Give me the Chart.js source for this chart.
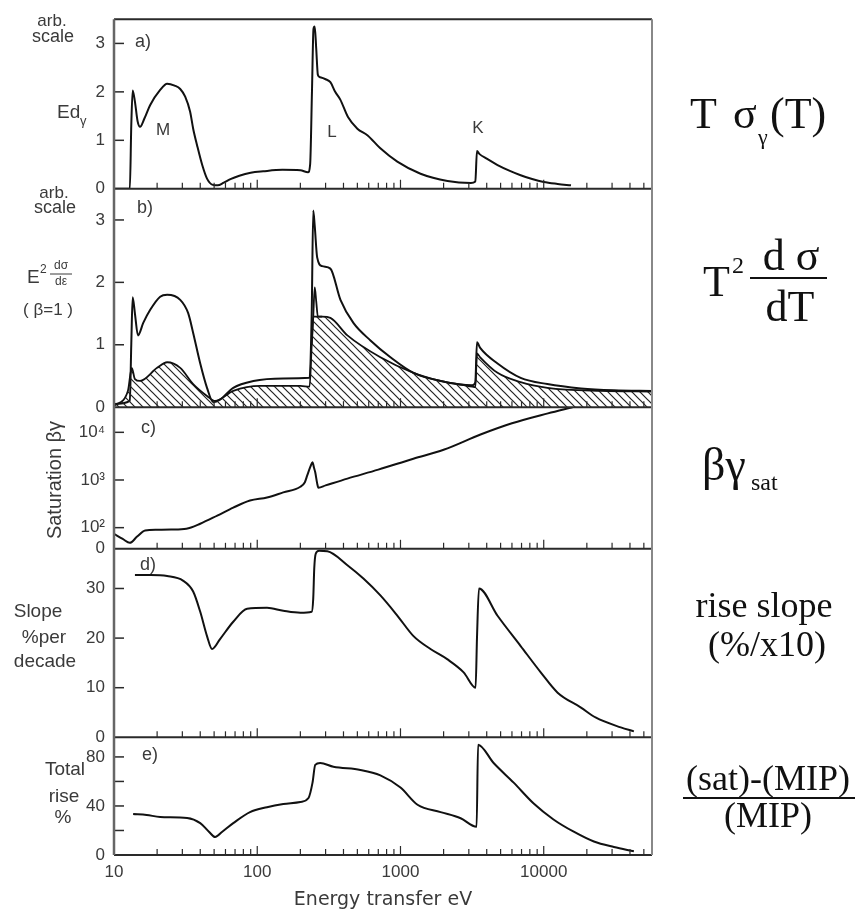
<!DOCTYPE html>
<html>
<head>
<meta charset="utf-8">
<title>Energy transfer spectra</title>
<script src="https://cdn.jsdelivr.net/npm/chart.js@4.4.1/dist/chart.umd.min.js"></script>
<style>
  html, body { margin: 0; padding: 0; background: #fff; }
  canvas { display: block; }
</style>
</head>
<body>
<canvas id="chart" width="861" height="915"></canvas>
<script>
// a) photo absorption  E * sigma_gamma
const aEnergy = [10, 12.9, 13.2, 13.5, 14.0, 14.6, 15.2, 16.3, 17.9, 21, 23.5, 26.5, 29, 31.4, 34, 35.7, 38, 41.3, 44.6, 49, 53, 58, 65, 75, 90, 110, 150, 200, 226, 234, 241, 247, 252, 258, 265, 275, 300, 324, 350, 380, 430, 500, 590, 720, 950, 1380, 2130, 3100, 3330, 3420, 3550, 4000, 4760, 5800, 6900, 8300, 10000, 12500, 15500];
const aSigma = [0, 0, 1.3, 2.03, 1.8, 1.4, 1.28, 1.45, 1.73, 2.04, 2.17, 2.13, 2.06, 1.9, 1.59, 1.24, 0.9, 0.49, 0.21, 0.08, 0.07, 0.12, 0.2, 0.27, 0.33, 0.36, 0.39, 0.38, 0.34, 0.5, 2.0, 3.3, 3.35, 2.9, 2.35, 2.3, 2.26, 2.2, 2.0, 1.84, 1.48, 1.24, 1.1, 0.84, 0.56, 0.31, 0.16, 0.12, 0.15, 0.78, 0.72, 0.62, 0.49, 0.37, 0.28, 0.2, 0.14, 0.1, 0.07];

// b) E^2 dsigma/dE for beta = 1: total, hatched part, L-edge spike
const bEnergy = [10, 12.9, 13.2, 13.5, 14.0, 14.7, 16, 17.9, 21, 23.5, 29, 32.9, 35.7, 40, 44.6, 49.3, 55, 68, 94, 152, 232, 240, 246, 252, 262, 284, 324, 381, 469, 617, 851, 1233, 1905, 3170, 3330, 3420, 3600, 4760, 6900, 10600, 18200, 30900, 57000];
const bTotal = [0.05, 0.1, 1.0, 1.76, 1.5, 1.15, 1.35, 1.56, 1.77, 1.8, 1.72, 1.51, 1.19, 0.7, 0.31, 0.08, 0.12, 0.31, 0.42, 0.46, 0.47, 1.5, 3.15, 2.9, 2.4, 2.26, 2.22, 1.72, 1.35, 1.07, 0.8, 0.55, 0.42, 0.35, 0.4, 1.04, 0.95, 0.7, 0.47, 0.37, 0.3, 0.27, 0.26];
const hEnergy = [10, 12.5, 13.3, 14.0, 15.2, 20, 23.5, 29, 35.7, 44.6, 50.8, 68, 105, 200, 232, 240, 246, 262, 284, 324, 426, 724, 1233, 1905, 3170, 3330, 3420, 3600, 4760, 6900, 10600, 25000, 57000];
const hShaded = [0.02, 0.26, 0.63, 0.45, 0.42, 0.63, 0.72, 0.63, 0.37, 0.18, 0.1, 0.26, 0.34, 0.34, 0.33, 1.0, 1.45, 1.45, 1.45, 1.43, 1.15, 0.8, 0.55, 0.42, 0.33, 0.32, 0.86, 0.8, 0.55, 0.4, 0.31, 0.26, 0.25];
const mEnergy = [240, 246, 252, 258, 265, 284];
const mSpike = [1.0, 1.45, 1.92, 1.7, 1.45, 1.45];

// c) saturation beta*gamma
const cEnergy = [10, 11.5, 12.9, 14.5, 16.5, 20, 25, 32, 40, 52.6, 68, 89, 117, 152, 200, 215, 223, 235, 243, 249, 254, 262, 267, 300, 426, 700, 1230, 2000, 3620, 6000, 10700, 15900];
const cBetaGamma = [74, 58, 48, 65, 87, 90, 91, 95, 121, 179, 263, 370, 430, 550, 720, 900, 1230, 1900, 2350, 1800, 1450, 850, 690, 770, 1070, 1650, 2800, 4300, 9000, 15500, 25000, 33700];

// d) rise slope, % per decade
const dEnergy = [14, 18, 23.5, 30.3, 35.7, 40, 44.6, 48.4, 55, 68, 85, 117, 152, 200, 240, 246, 250, 256, 270, 309, 426, 551, 724, 953, 1233, 1620, 2130, 2760, 3345, 3420, 3530, 4760, 6900, 9530, 12500, 18200, 23000, 34500, 42600];
const dSlope = [32.7, 32.7, 32.5, 31.6, 29.4, 25.3, 20.4, 17.8, 19.8, 23.3, 25.9, 26.1, 25.5, 25.1, 25.3, 28, 34, 37, 37.6, 37.5, 34.7, 32, 28.6, 24.5, 20.4, 17.8, 15.7, 13.1, 10.0, 20, 30, 24.5, 18.4, 13.1, 9.0, 6.0, 4.0, 2.0, 1.2];

// e) total rise, %
const eEnergy = [13.6, 16.9, 21, 32.4, 40, 46, 50.8, 57, 68, 89, 117, 152, 200, 228, 243, 254, 275, 340, 525, 724, 1000, 1315, 1905, 2630, 3400, 3480, 4470, 6170, 8510, 11700, 16200, 22400, 30900, 42600];
const eRise = [33.5, 32.7, 31, 30.2, 26, 19, 14.7, 19, 26, 35, 39, 41.6, 43.3, 46.5, 58.8, 73.5, 75, 72, 69.4, 65, 55, 41, 35, 30, 23, 90, 75, 59, 42, 29, 19, 11, 6.5, 3];

// axis ticks
const xTicks = [10, 100, 1000, 10000];
const abTicks = [0, 1, 2, 3];
const cTicks = [36, 100, 1000, 10000];
const cTickLabels = ['0', '10\u00b2', '10\u00b3', '10\u2074'];
const dTicks = [0, 10, 20, 30];
const eTicks = [0, 20, 40, 60, 80];
const eTickLabels = ['0', '', '40', '', '80'];

const sans = "'Liberation Sans', sans-serif";
const serif = "'Liberation Serif', 'DejaVu Serif', serif";
const ink = '#3a3a3a';
const panels = ['yA', 'yB', 'yC', 'yD', 'yE'];

const canvas = document.getElementById('chart');
const ctx = canvas.getContext('2d');

function pts(xs, ys) {
  return xs.map((x, i) => ({ x: x, y: ys[i] }));
}

function hatch() {
  const c = document.createElement('canvas');
  c.width = 8; c.height = 8;
  const g = c.getContext('2d');
  g.strokeStyle = '#222';
  g.lineWidth = 1.2;
  g.beginPath();
  g.moveTo(0, 0); g.lineTo(8, 8);
  g.moveTo(-4, 4); g.lineTo(4, 12);
  g.moveTo(4, -4); g.lineTo(12, 4);
  g.stroke();
  return ctx.createPattern(c, 'repeat');
}

function curve(data, axis, extra) {
  return Object.assign({
    data: data,
    yAxisID: axis,
    borderColor: '#111',
    borderWidth: 2,
    pointRadius: 0,
    fill: false,
    cubicInterpolationMode: 'monotone'
  }, extra || {});
}

function yAxis(weight, type, min, max, ticks, labels) {
  return {
    type: type,
    position: 'left',
    stack: 'panels',
    stackWeight: weight,
    min: min,
    max: max,
    grid: { display: false, drawTicks: false },
    border: { display: false },
    afterBuildTicks: s => { s.ticks = ticks.map(v => ({ value: v })); },
    afterFit: s => { s.width = 114; },
    ticks: {
      padding: 9,
      autoSkip: false,
      color: ink,
      font: { family: sans, size: 17 },
      callback: (v, i) => labels ? labels[i] : String(v)
    }
  };
}

function txt(c, s, x, y, size, opts) {
  opts = opts || {};
  c.font = size + 'px ' + (opts.family || sans);
  c.fillStyle = opts.color || ink;
  c.textAlign = opts.align || 'center';
  c.textBaseline = opts.baseline || 'middle';
  c.fillText(s, x, y);
}

function seg(c, x1, y1, x2, y2) {
  c.beginPath();
  c.moveTo(x1, y1);
  c.lineTo(x2, y2);
  c.stroke();
}

// frames, inward ticks and all the lettering
const decor = {
  id: 'decor',
  afterDatasetsDraw(chart) {
    const c = chart.ctx;
    const xs = chart.scales.x;
    c.save();
    panels.forEach(id => {
      const ys = chart.scales[id];
      c.strokeStyle = '#2a2a2a';
      c.lineWidth = 2;
      seg(c, xs.left, ys.bottom, xs.right, ys.bottom);
      c.lineWidth = 1.2;
      for (let d = 10; d < xs.max; d *= 10) {
        for (let k = 1; k < 10; k++) {
          const v = d * k;
          if (v <= xs.min || v >= xs.max) continue;
          const px = xs.getPixelForValue(v);
          seg(c, px, ys.bottom, px, ys.bottom - (k === 1 ? 9 : 6));
        }
      }
      c.lineWidth = 1.5;
      ys.ticks.forEach(t => {
        if (t.value <= ys.min) return;
        const py = ys.getPixelForValue(t.value);
        seg(c, xs.left, py, xs.left + 10, py);
      });
    });
    const top = chart.chartArea.top, bottom = chart.chartArea.bottom;
    c.strokeStyle = '#2a2a2a';
    c.lineWidth = 2;
    seg(c, xs.left, top, xs.right, top);
    c.strokeStyle = '#666';
    c.lineWidth = 2.5;
    seg(c, xs.left, top, xs.left, bottom);
    c.strokeStyle = '#888';
    c.lineWidth = 2;
    seg(c, xs.right, top, xs.right, bottom);

    // left-hand axis captions
    txt(c, 'arb.', 52, 21, 17);
    txt(c, 'scale', 53, 37, 18);
    txt(c, 'Ed', 57, 113, 19, { align: 'left' });
    txt(c, '\u03b3', 80, 121, 13, { align: 'left' });
    txt(c, 'arb.', 54, 193, 17);
    txt(c, 'scale', 55, 208, 18);
    txt(c, 'E', 27, 278, 19, { align: 'left' });
    txt(c, '2', 40, 270, 12, { align: 'left' });
    txt(c, 'd\u03c3', 61, 266, 12);
    txt(c, 'd\u03b5', 61, 282, 12);
    c.strokeStyle = ink;
    c.lineWidth = 1;
    seg(c, 50, 274, 72, 274);
    txt(c, '( \u03b2=1 )', 48, 310, 17);
    c.save();
    c.translate(55, 480);
    c.rotate(-Math.PI / 2);
    txt(c, 'Saturation \u03b2\u03b3', 0, 0, 20);
    c.restore();
    txt(c, 'Slope', 38, 612, 19);
    txt(c, '%per', 44, 638, 19);
    txt(c, 'decade', 45, 662, 19);
    txt(c, 'Total', 65, 770, 19);
    txt(c, 'rise', 64, 797, 19);
    txt(c, '%', 63, 818, 19);

    // panel letters and edge names
    txt(c, 'a)', 135, 42, 18, { align: 'left' });
    txt(c, 'b)', 137, 208, 18, { align: 'left' });
    txt(c, 'c)', 141, 428, 18, { align: 'left' });
    txt(c, 'd)', 140, 565, 18, { align: 'left' });
    txt(c, 'e)', 142, 755, 18, { align: 'left' });
    txt(c, 'M', 163, 130, 17);
    txt(c, 'L', 332, 132, 17);
    txt(c, 'K', 478, 128, 17);

    // right-hand formulas
    const f = { family: serif, color: '#111', align: 'left', baseline: 'alphabetic' };
    const fc = Object.assign({}, f, { align: 'center' });
    txt(c, 'T', 690, 128, 44, f);
    txt(c, '\u03c3', 733, 128, 44, f);
    txt(c, '\u03b3', 758, 144, 22, f);
    txt(c, '(T)', 770, 128, 44, f);

    txt(c, 'T', 703, 296, 44, f);
    txt(c, '2', 732, 273, 24, f);
    txt(c, 'd \u03c3', 791, 270, 44, fc);
    txt(c, 'dT', 790, 321, 44, fc);
    c.strokeStyle = '#111';
    c.lineWidth = 2;
    seg(c, 750, 278, 827, 278);

    txt(c, '\u03b2\u03b3', 702, 480, 46, f);
    txt(c, 'sat', 751, 490, 24, f);

    txt(c, 'rise slope', 764, 617, 36, fc);
    txt(c, '(%/x10)', 767, 656, 36, fc);

    txt(c, '(sat)-(MIP)', 768, 790, 36, fc);
    seg(c, 683, 798, 855, 798);
    txt(c, '(MIP)', 768, 827, 36, fc);
    c.restore();
  }
};

new Chart(canvas, {
  type: 'line',
  data: {
    datasets: [
      curve(pts(aEnergy, aSigma), 'yA'),
      curve(pts(hEnergy, hShaded), 'yB', { fill: 'origin', backgroundColor: hatch(), borderWidth: 1.8 }),
      curve(pts(mEnergy, mSpike), 'yB', { borderWidth: 1.8 }),
      curve(pts(bEnergy, bTotal), 'yB'),
      curve(pts(cEnergy, cBetaGamma), 'yC'),
      curve(pts(dEnergy, dSlope), 'yD'),
      curve(pts(eEnergy, eRise), 'yE')
    ]
  },
  options: {
    responsive: false,
    devicePixelRatio: 1,
    animation: false,
    layout: { padding: { top: 17, right: 209, bottom: 0, left: 0 } },
    plugins: { legend: { display: false }, tooltip: { enabled: false } },
    scales: {
      x: {
        type: 'logarithmic',
        min: 10,
        max: 57000,
        grid: { display: false, drawTicks: false },
        border: { display: false },
        afterBuildTicks: s => { s.ticks = xTicks.map(v => ({ value: v })); },
        afterFit: s => { s.height = 60; },
        ticks: {
          padding: 7,
          autoSkip: false,
          maxRotation: 0,
          color: ink,
          font: { family: sans, size: 17 },
          callback: v => String(v)
        },
        title: {
          display: true,
          text: 'Energy transfer eV',
          color: ink,
          font: { family: "'DejaVu Sans', sans-serif", size: 19 },
          padding: { top: 0, bottom: 4 }
        }
      },
      // stacked panels, listed bottom to top
      yE: yAxis(118, 'linear', 0, 96, eTicks, eTickLabels),
      yD: yAxis(189, 'linear', 0, 38, dTicks),
      yC: yAxis(142, 'logarithmic', 36, 33700, cTicks, cTickLabels),
      yB: yAxis(219, 'linear', 0, 3.5, abTicks),
      yA: yAxis(170, 'linear', 0, 3.5, abTicks)
    }
  },
  plugins: [decor]
});
</script>
</body>
</html>
